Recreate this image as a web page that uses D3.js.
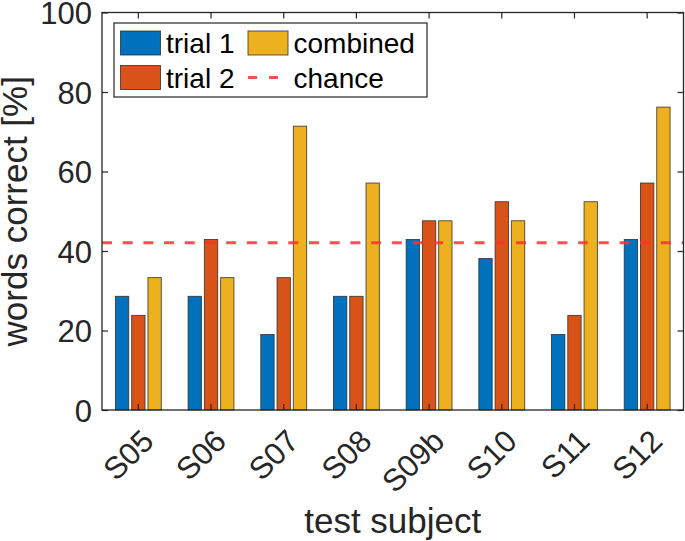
<!DOCTYPE html>
<html>
<head>
<meta charset="utf-8">
<script src="https://cdn.jsdelivr.net/npm/d3@7"></script>
<style>
  html, body { margin: 0; padding: 0; background: #fff; }
  svg { display: block; }
  text { font-family: "Liberation Sans", Arial, Helvetica, sans-serif; }
</style>
</head>
<body>
<svg id="chart" width="685" height="541"></svg>
<script>
// ---- data ----
const subjects = ["S05", "S06", "S07", "S08", "S09b", "S10", "S11", "S12"];
const seriesNames = ["trial 1", "trial 2", "combined"];
const trial1   = [28.6, 28.6, 19.0, 28.6, 42.9, 38.1, 19.0, 42.9];
const trial2   = [23.8, 42.9, 33.3, 28.6, 47.6, 52.4, 23.8, 57.1];
const combined = [33.3, 33.3, 71.4, 57.1, 47.6, 47.6, 52.4, 76.2];
const chance = 42.1;
const yTicks = [0, 20, 40, 60, 80, 100];
const colors = ["#0072BD", "#D95319", "#EDB120"];

const seriesValues = [trial1, trial2, combined];

// ---- layout ----
const svg = d3.select("#chart");
const mLeft = 102, mRight = 683.5, mTop = 12.5, mBottom = 410;
const axisColor = "#262626";

const x = d3.scaleBand().domain(subjects).range([mLeft, mRight]).padding(0);
const bw = x.bandwidth();
const xInner = d3.scaleBand().domain(seriesNames)
  .range([-0.3155 * bw, 0.3155 * bw]).paddingInner(0.18).paddingOuter(0);
const y = d3.scaleLinear().domain([0, 100]).range([mBottom, mTop]);

// ---- bars ----
const groups = svg.append("g").selectAll("g")
  .data(subjects)
  .join("g")
  .attr("transform", d => `translate(${x(d) + bw / 2},0)`);

groups.selectAll("rect")
  .data((s, i) => seriesNames.map((n, k) => ({ name: n, k, v: seriesValues[k][i] })))
  .join("rect")
  .attr("x", d => xInner(d.name))
  .attr("width", xInner.bandwidth())
  .attr("y", d => y(d.v))
  .attr("height", d => y(0) - y(d.v))
  .attr("fill", d => colors[d.k])
  .attr("stroke", "#2a2a2a")
  .attr("stroke-opacity", 0.85)
  .attr("stroke-width", 0.9);

// ---- chance line ----
svg.append("line")
  .attr("x1", mLeft).attr("x2", mRight)
  .attr("y1", y(chance)).attr("y2", y(chance))
  .attr("stroke", "#ff3030")
  .attr("stroke-opacity", 0.85)
  .attr("stroke-width", 3)
  .attr("stroke-dasharray", "10,10.7");

// ---- axes ----
const tickFont = 31;
function styleAxis(g) {
  g.select(".domain").remove();
  g.selectAll(".tick line").attr("stroke", axisColor).attr("stroke-width", 1.2);
  g.selectAll(".tick text").attr("fill", axisColor)
    .style("font-size", tickFont + "px")
    .style("font-family", "'Liberation Sans', Arial, Helvetica, sans-serif");
}

const yAxis = svg.append("g")
  .attr("transform", `translate(${mLeft},0)`)
  .call(d3.axisLeft(y).tickValues(yTicks).tickSize(-6).tickPadding(10));
styleAxis(yAxis);
yAxis.selectAll(".tick text").attr("dy", "0.36em");

const yAxisR = svg.append("g")
  .attr("transform", `translate(${mRight},0)`)
  .call(d3.axisRight(y).tickValues(yTicks).tickSize(-6).tickFormat(""));
styleAxis(yAxisR);

const xAxisT = svg.append("g")
  .attr("transform", `translate(0,${mTop})`)
  .call(d3.axisTop(x).tickSize(-6).tickFormat(""));
styleAxis(xAxisT);

const xAxis = svg.append("g")
  .attr("transform", `translate(0,${mBottom})`)
  .call(d3.axisBottom(x).tickSize(-6));
styleAxis(xAxis);
xAxis.selectAll(".tick text")
  .attr("text-anchor", "end")
  .attr("y", 0)
  .attr("dy", 0)
  .attr("transform", "translate(17,33) rotate(-45)");

// box
svg.append("rect")
  .attr("x", mLeft).attr("y", mTop)
  .attr("width", mRight - mLeft).attr("height", mBottom - mTop)
  .attr("fill", "none")
  .attr("stroke", axisColor)
  .attr("stroke-width", 1.3);

// ---- axis labels ----
svg.append("text")
  .attr("x", (mLeft + mRight) / 2)
  .attr("y", 533)
  .attr("text-anchor", "middle")
  .attr("fill", axisColor)
  .style("font-size", "35px")
  .text("test subject");

svg.append("text")
  .attr("transform", `translate(27,${(mTop + mBottom) / 2}) rotate(-90)`)
  .attr("text-anchor", "middle")
  .attr("fill", axisColor)
  .style("font-size", "35px")
  .text("words correct [%]");

// ---- legend ----
const legend = svg.append("g");
legend.append("rect")
  .attr("x", 114).attr("y", 23)
  .attr("width", 313).attr("height", 74)
  .attr("fill", "#fff")
  .attr("stroke", axisColor)
  .attr("stroke-width", 1.2);

const legendItems = [
  { label: seriesNames[0], type: "bar", color: colors[0], col: 0, row: 0 },
  { label: seriesNames[1], type: "bar", color: colors[1], col: 0, row: 1 },
  { label: seriesNames[2], type: "bar", color: colors[2], col: 1, row: 0 },
  { label: "chance", type: "line", color: "#ff3030", col: 1, row: 1 }
];
const colX = [120.5, 248];
const rowY = [43, 77.5];

legendItems.forEach(it => {
  const x0 = colX[it.col], cy = rowY[it.row];
  if (it.type === "bar") {
    legend.append("rect")
      .attr("x", x0).attr("y", cy - 12)
      .attr("width", 40).attr("height", 24)
      .attr("fill", it.color)
      .attr("stroke", "#2a2a2a").attr("stroke-opacity", 0.85)
      .attr("stroke-width", 0.9);
  } else {
    legend.append("line")
      .attr("x1", x0).attr("x2", x0 + 40)
      .attr("y1", cy).attr("y2", cy)
      .attr("stroke", it.color)
      .attr("stroke-opacity", 0.85)
      .attr("stroke-width", 3)
      .attr("stroke-dasharray", "9,12");
  }
  legend.append("text")
    .attr("x", x0 + 45.5)
    .attr("y", cy + 10)
    .attr("fill", "#000")
    .style("font-size", "28px")
    .text(it.label);
});
</script>
</body>
</html>
